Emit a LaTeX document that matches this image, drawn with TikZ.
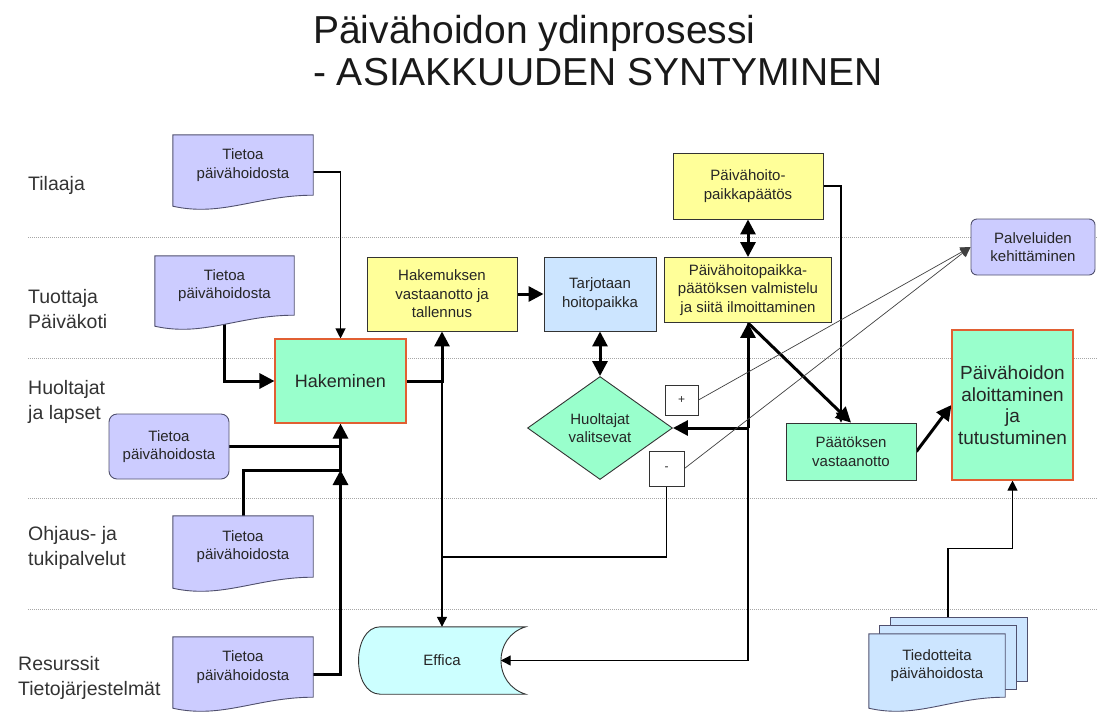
\documentclass[tikz,border=0pt]{standalone}
\usepackage{fontspec}
\setmainfont{Liberation Sans}
\usetikzlibrary{arrows.meta,shapes.geometric,calc}

\definecolor{keltainen}{RGB}{255,255,153}
\definecolor{minttu}{RGB}{153,255,204}
\definecolor{vaaleansin}{RGB}{204,229,255}
\definecolor{laventeli}{RGB}{204,204,255}
\definecolor{syaani}{RGB}{204,255,255}
\definecolor{oranssi}{RGB}{225,95,50}
\definecolor{docline}{RGB}{80,80,110}

\pgfdeclarelayer{lines}
\pgfdeclarelayer{shapes}
\pgfsetlayers{lines,shapes,main}

\newcommand{\docshape}[2]{%
  \begin{pgfonlayer}{shapes}
  \filldraw[fill=#2, draw=docline, line width=0.9pt] (#1.north west) -- (#1.north east) -- (#1.south east)
    .. controls ($(#1.south east)!0.4!(#1.south west)$) and ($(#1.south west)!0.35!(#1.south east)+(0,22)$) .. ($(#1.south west)+(0,11)$) -- cycle;
  \end{pgfonlayer}}

\begin{document}
\begin{tikzpicture}[
    x=1pt, y=-1pt,
    box/.style={draw=black!80, line width=0.9pt, align=center, inner sep=0pt, font=\fontsize{15}{18.5}\selectfont, text=black!85},
    kelta/.style={box, fill=keltainen},
    vihrea/.style={box, fill=minttu},
    sininen/.style={box, fill=vaaleansin},
    doc/.style={align=center, inner sep=0pt, font=\fontsize{15}{18.5}\selectfont, text=black!85},
    merkki/.style={box, fill=white, font=\fontsize{12}{14}\selectfont},
    lane/.style={anchor=west, align=left, inner sep=0pt, font=\fontsize{19.5}{25}\selectfont, text=black!80},
    otsikko/.style={anchor=north west, align=left, inner sep=0pt, font=\fontsize{39}{42}\selectfont, text=black!90},
    laneline/.style={gray!70, line width=0.9pt, dash pattern=on 1pt off 1pt},
    viiva/.style={line width=1.1pt},
    ohut/.style={line width=1.1pt, -{Triangle[length=10pt,width=10pt]}},
    hento/.style={line width=0.7pt, black!75, -{Triangle[length=10pt,width=10pt]}},
    paksuviiva/.style={line width=3pt},
    paksu/.style={line width=3pt, -{Triangle[length=15pt,width=15pt]}},
    paksu2/.style={line width=3pt, {Triangle[length=15pt,width=15pt]}-{Triangle[length=15pt,width=15pt]}}
]
\useasboundingbox (0,0) rectangle (1097,713);

\node[otsikko] (otsikko) at (313,15) {Päivähoidon ydinprosessi\\- ASIAKKUUDEN SYNTYMINEN};

\node[lane] (tilaaja) at (28,185) {Tilaaja};
\node[lane] (tuottaja) at (28,309.5) {Tuottaja\\Päiväkoti};
\node[lane] (huoltajat) at (28,402) {Huoltajat\\ja lapset};
\node[lane] (ohjaus) at (28,547.5) {Ohjaus- ja\\tukipalvelut};
\node[lane] (resurssit) at (18,677.5) {Resurssit\\Tietojärjestelmät};

\node[doc, minimum width=140pt, minimum height=60pt] (tilaajadoc) at (243,165) {Tietoa\\päivähoidosta};
\node[doc, minimum width=139pt, minimum height=59pt] (tuottajadoc) at (224.5,285.5) {Tietoa\\päivähoidosta};
\node[doc, draw=docline, line width=0.9pt, fill=laventeli, rounded corners=8pt, minimum width=120pt, minimum height=65pt] (huoltajadoc) at (169,446.5) {Tietoa\\päivähoidosta};
\node[doc, minimum width=140pt, minimum height=61pt] (ohjausdoc) at (243,546.5) {Tietoa\\päivähoidosta};
\node[doc, minimum width=140pt, minimum height=60pt] (resurssidoc) at (243,667) {Tietoa\\päivähoidosta};
\node[doc, minimum width=136pt, minimum height=63pt] (tiedote) at (937,665.5) {Tiedotteita\\päivähoidosta};
\docshape{tilaajadoc}{laventeli}
\docshape{tuottajadoc}{laventeli}
\docshape{ohjausdoc}{laventeli}
\docshape{resurssidoc}{laventeli}
\begin{pgfonlayer}{shapes}
\filldraw[fill=vaaleansin, draw=docline, line width=0.9pt] ([xshift=22pt,yshift=16pt]tiedote.north west) rectangle ([xshift=22pt,yshift=16pt]tiedote.south east);
\filldraw[fill=vaaleansin, draw=docline, line width=0.9pt] ([xshift=11pt,yshift=8pt]tiedote.north west) rectangle ([xshift=11pt,yshift=8pt]tiedote.south east);
\end{pgfonlayer}
\docshape{tiedote}{vaaleansin}

\node[vihrea, draw=oranssi, line width=1.1pt, font=\fontsize{18}{21}\selectfont, minimum width=131pt, minimum height=84pt] (hakeminen) at (340.5,381) {Hakeminen};
\node[kelta, minimum width=150pt, minimum height=74pt] (hakemus) at (442,294) {Hakemuksen\\vastaanotto ja\\tallennus};
\node[sininen, minimum width=112pt, minimum height=74pt] (tarjous) at (600,294) {Tarjotaan\\hoitopaikka};
\node[vihrea, diamond, aspect=1.4, minimum width=145pt, minimum height=103pt] (valitsevat) at (600,428) {Huoltajat\\valitsevat};
\node[kelta, minimum width=150pt, minimum height=66pt] (ppaatos) at (748,186) {Päivähoito-\\paikkapäätös};
\node[kelta, minimum width=167pt, minimum height=65pt] (valmistelu) at (748,290) {Päivähoitopaikka-\\päätöksen valmistelu\\ja siitä ilmoittaminen};
\node[box, fill=laventeli, draw=docline, rounded corners=6pt, minimum width=124pt, minimum height=56pt] (kehitys) at (1033,247) {Palveluiden\\kehittäminen};
\node[vihrea, minimum width=130pt, minimum height=57pt] (paatos) at (851,451.5) {Päätöksen\\vastaanotto};
\node[vihrea, draw=oranssi, line width=1.1pt, font=\fontsize{19}{21.5}\selectfont, minimum width=121pt, minimum height=150pt] (aloitus) at (1012.5,405) {Päivähoidon\\aloittaminen\\ja\\tutustuminen};
\node[merkki, minimum width=33pt, minimum height=30pt] (plus) at (681.5,400) {+};
\node[merkki, minimum width=35pt, minimum height=35pt] (minus) at (666.5,468.5) {-};
\node[doc, minimum width=167pt, minimum height=67pt] (effica) at (442,660.5) {Effica};
\begin{pgfonlayer}{shapes}
\filldraw[fill=syaani, draw=black!80, line width=0.9pt] ([xshift=22pt]effica.north west) -- (effica.north east)
  .. controls +(-33,10) and +(-33,-10) .. (effica.south east) -- ([xshift=22pt]effica.south west)
  .. controls +(-29,0) and +(-29,0) .. ([xshift=22pt]effica.north west) -- cycle;
\end{pgfonlayer}

\coordinate (ojoin) at (340.5,470);
\coordinate (mjoin) at (442,557);
\coordinate (efficain) at ([xshift=-25pt]effica.east);
\coordinate (vjoin) at (valmistelu.south |- valitsevat.east);

\begin{pgfonlayer}{lines}
\foreach \ly in {237,358,498,609}
  \draw[laneline] (28,\ly) -- (1097,\ly);
\draw[ohut] ([yshift=-7pt]tilaajadoc.east) -| (hakeminen.north);
\draw[paksu] (tuottajadoc.south) |- (hakeminen.west);
\draw[paksuviiva] (huoltajadoc.east) -- (huoltajadoc.east -| hakeminen.south);
\draw[paksu] (ohjausdoc.north) |- (ojoin) -- (hakeminen.south);
\draw[paksu] ([yshift=-7pt]resurssidoc.east) -| (ojoin);
\draw[paksu] (hakeminen.east) -| (hakemus.south);
\draw[ohut] (hakemus.south |- hakeminen.east) -- (effica.north);
\draw[viiva] (minus.south) |- (mjoin);
\draw[paksu] (hakemus.east) -- (tarjous.west);
\draw[paksu2] (tarjous.south) -- (valitsevat.north);
\draw[paksu2] (ppaatos.south) -- (valmistelu.north);
\draw[ohut] (ppaatos.east) -| ([xshift=-10pt]paatos.north);
\draw[paksu] (valmistelu.south) -- (paatos.north);
\draw[paksu] (vjoin) -- (valmistelu.south);
\draw[paksu] (vjoin) -- (valitsevat.east);
\draw[ohut] (vjoin) |- (efficain);
\draw[hento] (plus.east) -- (kehitys.west);
\draw[hento] (minus.east) -- (kehitys.west);
\draw[paksu] (paatos.east) -- (aloitus.west);
\draw[ohut] ([xshift=11pt]tiedote.north) |- ([yshift=-68pt]aloitus.south) -- (aloitus.south);
\end{pgfonlayer}
\end{tikzpicture}
\end{document}
